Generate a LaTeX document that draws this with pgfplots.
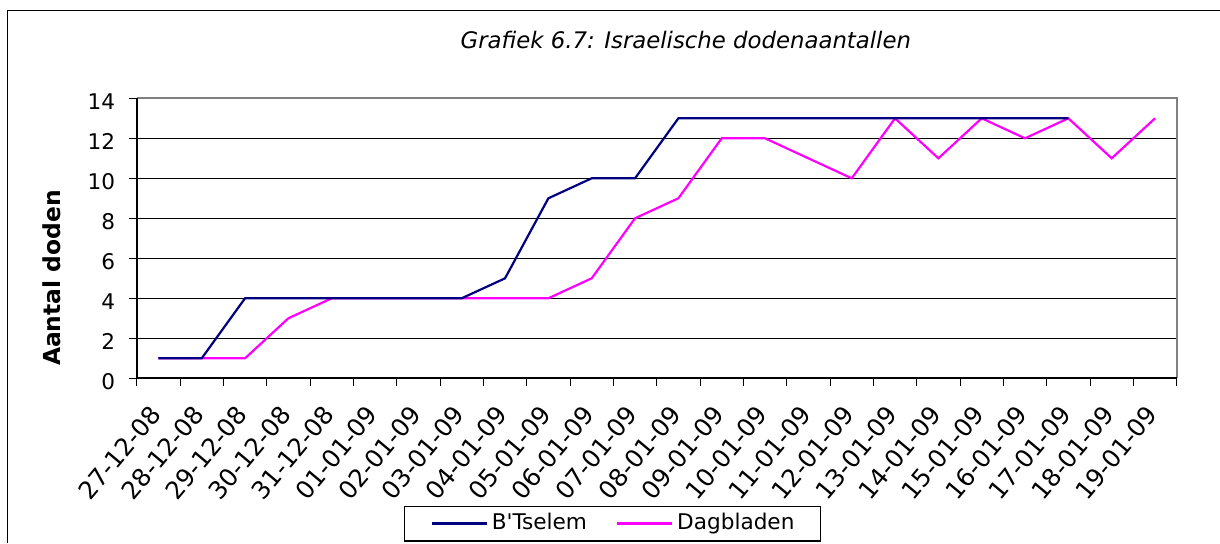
\documentclass[border=0pt]{standalone}
\usepackage{pgfplots}
\pgfplotsset{compat=1.18}
\usepackage{fontspec}
\setmainfont{DejaVu Sans}
\definecolor{navyline}{RGB}{0,0,128}
\definecolor{magline}{RGB}{255,0,255}
\definecolor{bordergray}{RGB}{128,128,128}
\begin{document}
\begin{tikzpicture}
\useasboundingbox (0,0) rectangle (610pt,271.5pt);
\draw[line width=0.7pt] (3.7pt,0pt) -- (3.7pt,266.2pt) -- (610pt,266.2pt);
\begin{axis}[
  at={(68.35pt,82.35pt)}, anchor=south west,
  scale only axis, width=520pt, height=140pt,
  xmin=-0.5, xmax=23.5, ymin=0, ymax=14,
  ytick={0,2,...,14},
  xtick={-0.5,0.5,...,23.5},
  x tick label as interval,
  xticklabels={27-12-08,28-12-08,29-12-08,30-12-08,31-12-08,01-01-09,02-01-09,03-01-09,04-01-09,05-01-09,06-01-09,07-01-09,08-01-09,09-01-09,10-01-09,11-01-09,12-01-09,13-01-09,14-01-09,15-01-09,16-01-09,17-01-09,18-01-09,19-01-09},
  tick pos=left,
  tick align=outside,
  major tick length=4pt,
  tick style={black, line width=0.5pt},
  ymajorgrids,
  major grid style={black, line width=0.5pt},
  axis line style={draw=none},
  /pgf/number format/assume math mode=true,
  yticklabel style={font=\fontsize{10.8}{13}\selectfont, anchor=east, inner sep=0pt, xshift=-6.55pt, yshift=-1.5pt},
  xticklabel style={font=\fontsize{12.3}{14}\selectfont, inner sep=0pt, xshift=-1.3pt, yshift=-11.7pt, rotate=50, anchor=east},
  ylabel={Aantal doden},
  ylabel style={at={(-0.0814,0.358)}, anchor=center, rotate=0, font=\bfseries\fontsize{11.7}{13}\selectfont},
  title={Grafiek 6.7: Israelische dodenaantallen},
  title style={at={(0.528,1.165)}, anchor=center, font=\itshape\fontsize{11.4}{13}\selectfont},
  legend columns=2,
  reverse legend,
  legend image code/.code={\draw[#1] (0pt,0pt) -- (27.5pt,0pt);},
  legend style={at={(0.4575,-0.5186)}, anchor=center, draw=black, line width=0.7pt,
    inner xsep=13pt, inner ysep=3.5pt, font=\fontsize{10.8}{13}\selectfont,
    /tikz/every even column/.append style={column sep=14.5pt},
    /tikz/every odd column/.append style={column sep=2pt},
    nodes={inner sep=0pt, text height=8pt, text depth=2.3pt}},
  clip=false,
]
\addplot[magline, line width=1.1pt] coordinates {
(0,1) (1,1) (2,1) (3,3) (4,4) (5,4) (6,4) (7,4) (8,4) (9,4) (10,5) (11,8)
(12,9) (13,12) (14,12) (15,11) (16,10) (17,13) (18,11) (19,13) (20,12) (21,13) (22,11) (23,13)};
\addlegendentry{Dagbladen}
\addplot[navyline, line width=1.1pt] coordinates {
(0,1) (1,1) (2,4) (3,4) (4,4) (5,4) (6,4) (7,4) (8,5) (9,9) (10,10) (11,10)
(12,13) (13,13) (14,13) (15,13) (16,13) (17,13) (18,13) (19,13) (20,13) (21,13)};
\addlegendentry{B\textquotesingle Tselem}
\draw[bordergray, line width=1pt] (rel axis cs:0,1) -- (rel axis cs:1,1) -- (rel axis cs:1,0);
\draw[black, line width=1pt] (rel axis cs:0,1) -- (rel axis cs:0,0) -- (rel axis cs:1,0);
\end{axis}
\end{tikzpicture}
\end{document}
